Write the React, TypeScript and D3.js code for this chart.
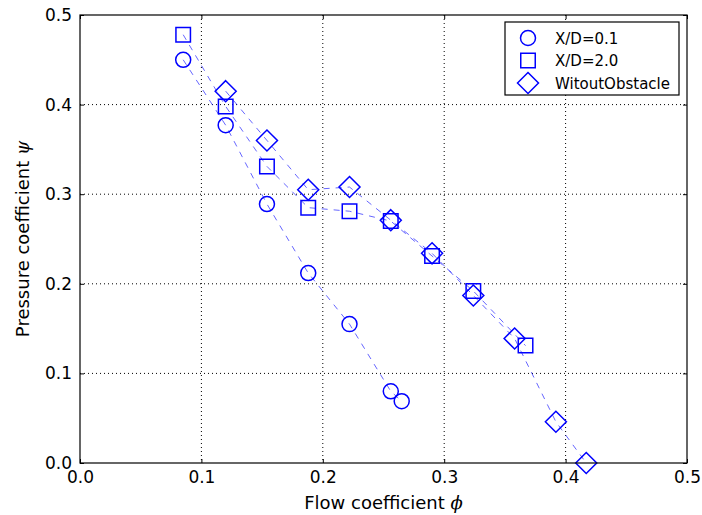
import React, { useEffect, useRef } from "react";
import * as d3 from "d3";

// flow coefficient values (x) shared by the series
const phiCircle = [0.085, 0.12, 0.154, 0.188, 0.222, 0.256, 0.265];
const psiCircle = [0.45, 0.377, 0.289, 0.212, 0.155, 0.08, 0.069];

const phiSquare = [0.085, 0.12, 0.154, 0.188, 0.222, 0.256, 0.29, 0.324, 0.367];
const psiSquare = [0.478, 0.398, 0.331, 0.285, 0.281, 0.27, 0.231, 0.192, 0.131];

const phiDiamond = [0.12, 0.154, 0.188, 0.222, 0.256, 0.29, 0.324, 0.358, 0.392, 0.417];
const psiDiamond = [0.415, 0.36, 0.305, 0.308, 0.271, 0.234, 0.187, 0.139, 0.046, 0.0];

const legendLabels = ["X/D=0.1", "X/D=2.0", "WitoutObstacle"];
const xTicks = [0, 0.1, 0.2, 0.3, 0.4, 0.5];
const yTicks = [0, 0.1, 0.2, 0.3, 0.4, 0.5];

const W = 702, H = 515;
const margin = { top: 15, right: 15, bottom: 52, left: 80 };
const BLUE = "#0000ff";

function App() {
  const ref = useRef<SVGSVGElement>(null);

  useEffect(() => {
    const svg = d3.select(ref.current);
    svg.selectAll("*").remove();

    const w = W - margin.left - margin.right;
    const h = H - margin.top - margin.bottom;
    const x = d3.scaleLinear().domain([0, 0.5]).range([0, w]);
    const y = d3.scaleLinear().domain([0, 0.5]).range([h, 0]);

    svg.append("rect").attr("width", W).attr("height", H).attr("fill", "white");

    const g = svg.append("g").attr("transform", `translate(${margin.left},${margin.top})`);

    // dotted grid
    g.selectAll(".gx").data(xTicks.slice(1, -1)).join("line")
      .attr("x1", d => x(d)).attr("x2", d => x(d)).attr("y1", 0).attr("y2", h)
      .attr("stroke", "#000").attr("stroke-width", 1).attr("stroke-dasharray", "1,3");
    g.selectAll(".gy").data(yTicks.slice(1, -1)).join("line")
      .attr("y1", d => y(d)).attr("y2", d => y(d)).attr("x1", 0).attr("x2", w)
      .attr("stroke", "#000").attr("stroke-width", 1).attr("stroke-dasharray", "1,3");

    // axes, ticks inward on all sides
    const fmt = d3.format(".1f");
    const styleAxis = (sel: any) => {
      sel.select(".domain").remove();
      sel.selectAll("text").attr("font-family", "DejaVu Sans").attr("font-size", 17).attr("fill", "#000");
      sel.selectAll("line").attr("stroke", "#000");
    };
    g.append("g").attr("transform", `translate(0,${h})`)
      .call(d3.axisBottom(x).tickValues(xTicks).tickFormat(fmt as any).tickSizeInner(-4).tickPadding(8))
      .call(styleAxis);
    g.append("g")
      .call(d3.axisTop(x).tickValues(xTicks).tickFormat(() => "").tickSizeInner(-4))
      .call(styleAxis);
    g.append("g")
      .call(d3.axisLeft(y).tickValues(yTicks).tickFormat(fmt as any).tickSizeInner(-4).tickPadding(8))
      .call(styleAxis);
    g.append("g").attr("transform", `translate(${w},0)`)
      .call(d3.axisRight(y).tickValues(yTicks).tickFormat(() => "").tickSizeInner(-4))
      .call(styleAxis);

    const series = [
      { xs: phiCircle, ys: psiCircle, shape: "circle" },
      { xs: phiSquare, ys: psiSquare, shape: "square" },
      { xs: phiDiamond, ys: psiDiamond, shape: "diamond" },
    ];

    const line = d3.line<[number, number]>().x(d => x(d[0])).y(d => y(d[1]));
    const markerPath = (shape: string) => {
      if (shape === "circle") return d3.symbol().type(d3.symbolCircle).size(Math.PI * 7.5 * 7.5)();
      if (shape === "square") return d3.symbol().type(d3.symbolSquare).size(14.5 * 14.5)();
      return "M0,-10.5L10.5,0L0,10.5L-10.5,0Z";
    };

    series.forEach(s => {
      const pts = s.xs.map((v, i) => [v, s.ys[i]] as [number, number]);
      g.append("path").attr("d", line(pts) as string)
        .attr("fill", "none").attr("stroke", BLUE).attr("stroke-opacity", 0.6)
        .attr("stroke-width", 1).attr("stroke-dasharray", "6,6");
    });
    series.forEach(s => {
      const pts = s.xs.map((v, i) => [v, s.ys[i]] as [number, number]);
      g.selectAll(null).data(pts).join("path")
        .attr("d", markerPath(s.shape) as string)
        .attr("transform", d => `translate(${x(d[0])},${y(d[1])})`)
        .attr("fill", "none").attr("stroke", BLUE).attr("stroke-width", 1.5);
    });

    // frame
    g.append("rect").attr("width", w).attr("height", h)
      .attr("fill", "none").attr("stroke", "#000").attr("stroke-width", 1.2);

    // axis labels
    const xl = svg.append("text").attr("x", margin.left + w / 2).attr("y", 509)
      .attr("text-anchor", "middle").attr("font-family", "DejaVu Sans").attr("font-size", 18);
    xl.append("tspan").text("Flow coefficient ");
    xl.append("tspan").attr("font-family", "DejaVu Serif").attr("font-style", "italic").text("ϕ");

    const yl = svg.append("text")
      .attr("transform", `translate(29,${margin.top + h / 2}) rotate(-90)`)
      .attr("text-anchor", "middle").attr("font-family", "DejaVu Sans").attr("font-size", 18);
    yl.append("tspan").text("Pressure coefficient ");
    yl.append("tspan").attr("font-family", "DejaVu Serif").attr("font-style", "italic").text("ψ");

    // legend
    const lg = svg.append("g").attr("transform", "translate(505,22)");
    lg.append("rect").attr("width", 174).attr("height", 73)
      .attr("fill", "white").attr("stroke", "#000").attr("stroke-width", 1.2);
    series.forEach((s, i) => {
      const cy = 16 + i * 22.5;
      lg.append("path").attr("d", markerPath(s.shape) as string)
        .attr("transform", `translate(23,${cy})`)
        .attr("fill", "none").attr("stroke", BLUE).attr("stroke-width", 1.5);
      lg.append("text").attr("x", 50).attr("y", cy + 5.5)
        .attr("font-family", "DejaVu Sans").attr("font-size", 15).text(legendLabels[i]);
    });
  }, []);

  return <svg ref={ref} width={W} height={H} style={{ display: "block", position: "absolute", left: 0, top: 0 }} />;
}

export default App;
